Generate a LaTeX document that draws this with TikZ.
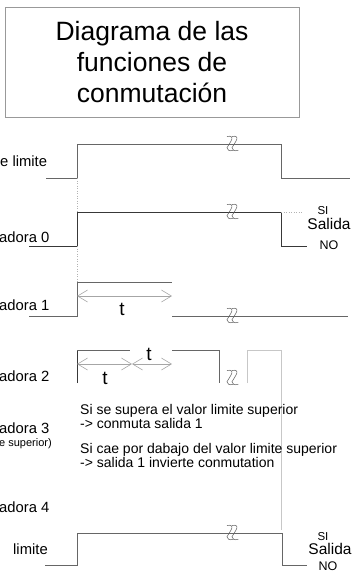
\documentclass[tikz,border=0pt]{standalone}
\usepackage{fontspec}
\setmainfont{Liberation Sans}
\usetikzlibrary{arrows.meta}
\begin{document}
\begin{tikzpicture}[x=1pt,y=-1pt,
  sig/.style={draw=black!60,line width=0.8pt},
  sigd/.style={draw=black!78,line width=0.8pt},
  faint/.style={draw=black!22,line width=0.6pt},
  dotln/.style={draw=black!30,line width=0.5pt,dotted},
  tarr/.style={draw=black!35,line width=0.6pt,{Straight Barb[length=10pt,width=12pt]}-{Straight Barb[length=10pt,width=12pt]}},
  lab/.style={font=\fontsize{14.8}{16}\selectfont,anchor=base west,inner sep=0pt},
  smalllab/.style={font=\fontsize{11}{13}\selectfont,anchor=base west,inner sep=0pt},
  txt/.style={font=\fontsize{14}{16}\selectfont,anchor=base west,inner sep=0pt},
  tlab/.style={font=\fontsize{19}{21}\selectfont,inner sep=0pt},
  silab/.style={font=\fontsize{11.5}{13}\selectfont,inner sep=0pt},
  salab/.style={font=\fontsize{15.5}{17}\selectfont,inner sep=0pt},
  nolab/.style={font=\fontsize{12.5}{14}\selectfont,inner sep=0pt},
  brk/.pic={
    \begin{scope}[scale=1.25]
    \draw[black!60,line width=0.55pt] (-4,-6) .. controls (0,-7) and (1,-5) .. (-1,-2) -- (-4,3) .. controls (-4,5) and (-2,6) .. (1,5);
    \draw[black!60,line width=0.55pt] (0,-6) .. controls (4,-7) and (5,-5) .. (3,-2) -- (0,3) .. controls (0,5) and (2,6) .. (5,5);
    \end{scope}
  }
]
\useasboundingbox (0,0) rectangle (353,572);

% title
\node[draw=black!40,line width=0.7pt,minimum width=294pt,minimum height=110pt,inner sep=0pt,
      align=center,font=\fontsize{26.5}{31}\selectfont] (title) at (152,62)
      {Diagrama de las\\funciones de\\conmutación};

% row labels
\node[lab] (l1) at (0,167) {e limite};
\node[lab] (l2) at (-1,242) {adora 0};
\node[lab] (l3) at (-1,310) {adora 1};
\node[lab] (l4) at (-1,381) {adora 2};
\node[lab] (l5) at (-1,433) {adora 3};
\node[smalllab] (l5b) at (-1,446) {e superior)};
\node[lab] (l6) at (-1,512) {adora 4};
\node[lab] (l7) at (13,554) {limite};

% row 1
\draw[sig] (46,178) -- (77,178) -- (77,144) -- (281,144) -- (281,178) -- (350,178);
\pic at (232,144) {brk};
% row 2
\draw[sigd] (29,246) -- (77,246) -- (77,212) -- (281,212) -- (281,246) -- (307,246);
\draw[dotln] (281,212) -- (303,212);
\pic at (232,212) {brk};
\node[silab] (si1) at (323,211) {SI};
\node[salab] (sa1) at (329,224) {Salida};
\node[nolab] (no1) at (329,245) {NO};
% dotted guide
\draw[dotln] (77,178) -- (77,212);
\draw[dotln] (77,246) -- (77,282);

% row 3
\draw[sig] (29,316) -- (77,316) -- (77,282) -- (172,282);
\draw[sig] (172,316) -- (348,316);
\pic at (232,316) {brk};
\coordinate (a3l) at (77,296);
\coordinate (a3r) at (172,296);
\draw[tarr] (a3l) -- (a3r);
\node[tlab] (t3) at (122,309) {t};

% row 4
\draw[sigd] (77,383) -- (77,350);
\draw[sig] (77,350) -- (130,350);
\draw[sig] (172,350) -- (219,350) -- (219,383);
\draw[faint] (247,383) -- (247,350) -- (281,350) -- (281,530);
\pic at (232,378) {brk};
\coordinate (a4l) at (77,364);
\coordinate (a4m) at (132,364);
\coordinate (a4r) at (172,364);
\draw[tarr] (a4l) -- (a4m);
\draw[tarr] (a4m) -- (a4r);
\node[tlab] (t4a) at (149,354) {t};
\node[tlab] (t4b) at (105,378) {t};

% text block
\node[txt] (b1) at (80,414) {Si se supera el valor limite superior};
\node[txt] (b2) at (80,428) {-> conmuta salida 1};
\node[txt] (b3) at (80,453) {Si cae por dabajo del valor limite superior};
\node[txt] (b4) at (80,467) {-> salida 1 invierte conmutation};

% row 7
\draw[sig] (45,565) -- (77,565) -- (77,533) -- (282,533) -- (282,565) -- (307,565);
\pic at (232,533) {brk};
\node[silab] (si2) at (323,537) {SI};
\node[salab] (sa2) at (330,549) {Salida};
\node[nolab] (no2) at (328,566) {NO};
\end{tikzpicture}
\end{document}
